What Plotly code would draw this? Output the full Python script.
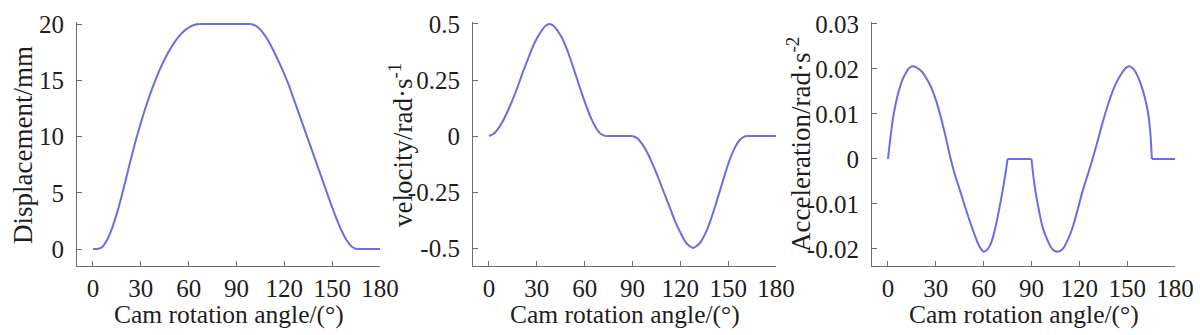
import plotly.graph_objects as go

# Cam follower motion over one 180-degree cycle (rise, dwell, return, dwell)
disp_deg = [0, 3, 6, 9, 12, 15, 18, 21, 25, 28, 31, 34, 37, 40, 43, 46, 49, 52, 55, 58,
            61, 64, 67, 83, 99, 102, 105, 108, 111, 114, 117, 120, 123, 126, 129, 132,
            135, 138, 141, 144, 147, 150, 153, 156, 159, 162, 165, 172, 180]
disp_mm = [0, 0, 0.21, 0.84, 1.85, 3.17, 4.72, 6.41, 8.67, 10.23, 11.67, 13.0, 14.22,
           15.31, 16.29, 17.16, 17.92, 18.55, 19.08, 19.48, 19.77, 19.94, 20, 20, 20,
           19.85, 19.5, 18.95, 18.25, 17.4, 16.5, 15.55, 14.5, 13.3, 12.1, 10.9, 9.7, 8.5,
           7.3, 6.1, 4.9, 3.7, 2.6, 1.6, 0.8, 0.25, 0, 0, 0]
disp_breaks = [3, 67, 99, 165]

vel_deg = [0, 3, 6, 9, 12, 15, 18, 21, 24, 27, 30, 33, 35.5, 38, 40.5, 43, 46, 49, 52,
           55, 58, 61, 64, 67, 70, 73, 82, 90, 93, 96, 99, 102, 105, 108, 111, 114, 117,
           120, 123, 125.5, 128, 130.5, 133, 136, 139, 142, 145, 148, 151, 154, 157, 160,
           162, 171, 180]
vel_val = [0, 0.01, 0.035, 0.07, 0.115, 0.165, 0.22, 0.28, 0.335, 0.39, 0.435, 0.47,
           0.492, 0.5, 0.492, 0.47, 0.435, 0.385, 0.325, 0.26, 0.195, 0.135, 0.08, 0.038,
           0.01, 0, 0, 0, -0.01, -0.035, -0.07, -0.115, -0.165, -0.22, -0.275, -0.33,
           -0.385, -0.43, -0.47, -0.49, -0.5, -0.49, -0.47, -0.43, -0.375, -0.31, -0.24,
           -0.17, -0.105, -0.055, -0.02, -0.003, 0, 0, 0]
vel_breaks = [73, 90, 162]

acc_deg = [0, 1.5, 3, 5, 7, 9, 11, 13, 15.5, 18, 21, 24, 27, 30, 33, 36, 39, 42, 45, 48,
           51, 54, 56.5, 58.5, 60, 62, 64, 66, 68, 70, 72, 74, 75, 82, 90, 92, 95, 97,
           99.5, 102, 104, 106, 108, 110, 113, 116, 119, 122, 125, 128, 131, 134, 137,
           140, 143, 146, 148.5, 151, 153, 155, 157, 159, 161, 163, 164.5, 165.5, 172, 180]
acc_val = [0, 0.0045, 0.0087, 0.0125, 0.0154, 0.0175, 0.019, 0.0201, 0.0206, 0.0203,
           0.0195, 0.018, 0.016, 0.0132, 0.0095, 0.0052, 0.0005, -0.0035, -0.0068,
           -0.0102, -0.0135, -0.0165, -0.0188, -0.0201, -0.0206, -0.0202, -0.0192,
           -0.0172, -0.0142, -0.0107, -0.0068, -0.0025, 0, 0, 0, -0.006, -0.012, -0.0152,
           -0.0176, -0.0195, -0.0203, -0.0206, -0.0204, -0.0198, -0.0178, -0.015, -0.0112,
           -0.0072, -0.0038, -0.0004, 0.0034, 0.0073, 0.011, 0.0142, 0.0168, 0.0187,
           0.02, 0.0206, 0.0203, 0.0195, 0.0181, 0.0162, 0.0138, 0.0105, 0.006, 0, 0, 0]
acc_breaks = [75, 90, 165.5]

x_ticks = [0, 30, 60, 90, 120, 150, 180]
disp_ticks = [0, 5, 10, 15, 20]
disp_ticktext = ["0", "5", "10", "15", "20"]
vel_ticks = [-0.5, -0.25, 0, 0.25, 0.5]
vel_ticktext = ["-0.5", "-0.25", "0", "0.25", "0.5"]
acc_ticks = [-0.02, -0.01, 0, 0.01, 0.02, 0.03]
acc_ticktext = ["-0.02", "-0.01", "0", "0.01", "0.02", "0.03"]

x_title = "Cam rotation angle/(°)"
y_titles = ["Displacement/mm", "velocity/rad·s<sup>-1</sup>", "Acceleration/rad·s<sup>-2</sup>"]

W, H = 1200, 335
LINE = "#6c6ce6"
AXIS = "#6e6e6e"
TEXT = "#1e1e1e"
FONT = "Times New Roman, Liberation Serif, DejaVu Serif, serif"

# plot boxes in pixels: left, right; shared top/bottom
boxes = [(77, 380), (473, 776), (872, 1175)]
top_px, bot_px = 22, 266
y_dom = [1 - bot_px / H, 1 - top_px / H]
y_ranges = [[-1.51, 20.18], [-0.580, 0.5089], [-0.02378, 0.03044]]
ytitle_x = [23, 401, 799]


def segments(xs, ys, breaks):
    """Split a curve at the given break angles (shared endpoints) so each
    smooth piece is splined on its own and corners stay sharp."""
    cuts = [0] + [xs.index(b) for b in breaks] + [len(xs) - 1]
    return [(xs[a:b + 1], ys[a:b + 1]) for a, b in zip(cuts[:-1], cuts[1:])]


fig = go.Figure()
series = [(disp_deg, disp_mm, disp_breaks), (vel_deg, vel_val, vel_breaks),
          (acc_deg, acc_val, acc_breaks)]
for i, (xs, ys, br) in enumerate(series, start=1):
    for sx, sy in segments(xs, ys, br):
        fig.add_trace(go.Scatter(
            x=sx, y=sy, mode="lines", showlegend=False,
            line=dict(color=LINE, width=2, shape="spline", smoothing=0.8),
            xaxis=f"x{i if i > 1 else ''}", yaxis=f"y{i if i > 1 else ''}",
        ))

ytick_sets = [(disp_ticks, disp_ticktext), (vel_ticks, vel_ticktext), (acc_ticks, acc_ticktext)]
layout = dict(
    width=W, height=H, margin=dict(l=0, r=0, t=0, b=0),
    paper_bgcolor="white", plot_bgcolor="white",
    font=dict(family=FONT, color=TEXT, size=25),
    showlegend=False,
)
annotations = []
for i, ((l, r), yr, (tv, tt), tx) in enumerate(zip(boxes, y_ranges, ytick_sets, ytitle_x), start=1):
    sfx = "" if i == 1 else str(i)
    layout[f"xaxis{sfx}"] = dict(
        domain=[l / W, r / W], range=[-10, 180], anchor=f"y{sfx}",
        tickvals=x_ticks, ticks="inside", ticklen=5, tickcolor=AXIS,
        showline=True, linecolor=AXIS, linewidth=1.2, showgrid=False, zeroline=False,
        tickfont=dict(family=FONT, size=25, color=TEXT), automargin=False,
        ticklabelstandoff=0,
    )
    layout[f"yaxis{sfx}"] = dict(
        domain=y_dom, range=yr, anchor=f"x{sfx}",
        tickvals=tv, ticktext=tt, ticks="inside", ticklen=5, tickcolor=AXIS,
        showline=True, linecolor=AXIS, linewidth=1.2, showgrid=False, zeroline=False,
        tickfont=dict(family=FONT, size=25, color=TEXT), automargin=False,
        ticklabelstandoff=7,
    )
    annotations.append(dict(
        text=x_title, xref="paper", yref="paper", x=(l + r) / 2 / W, y=1 - 314 / H,
        xanchor="center", yanchor="middle", showarrow=False,
        font=dict(family=FONT, size=25.5, color=TEXT),
    ))
    annotations.append(dict(
        text=y_titles[i - 1], xref="paper", yref="paper", x=tx / W, y=1 - 145 / H,
        xanchor="center", yanchor="middle", showarrow=False, textangle=-90,
        font=dict(family=FONT, size=27, color=TEXT),
    ))
layout["annotations"] = annotations
fig.update_layout(**layout)

fig.write_html("out.html")
